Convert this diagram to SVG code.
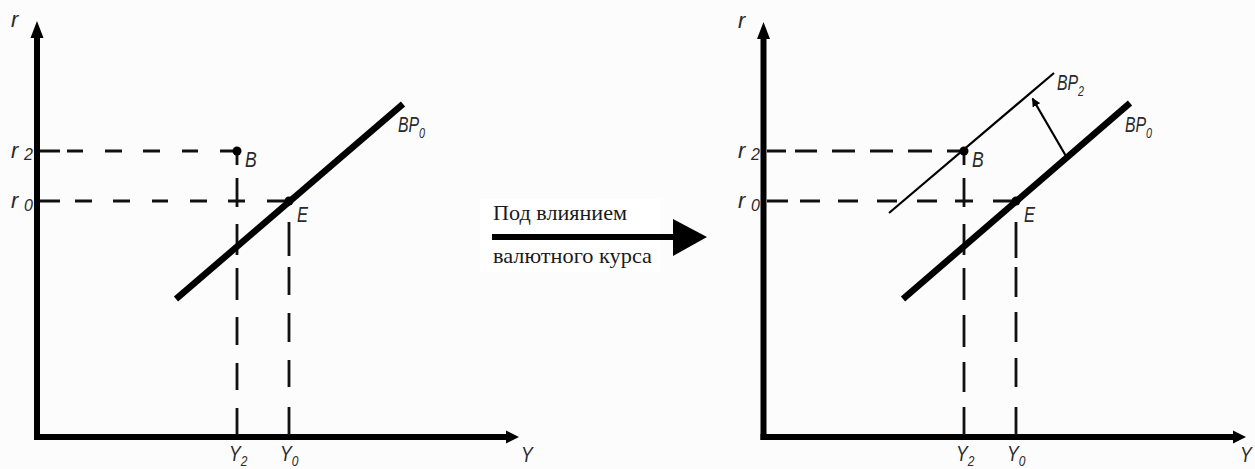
<svg xmlns="http://www.w3.org/2000/svg" width="1255" height="469" viewBox="0 0 1255 469">
  <defs>
    <style>
      .axis { stroke: #000; stroke-width: 6; fill: none; }
      .head { fill: #000; }
      .dash { stroke: #111; stroke-width: 2.8; fill: none; }
      .bp0 { stroke: #000; stroke-width: 6.5; fill: none; }
      .bp2 { stroke: #000; stroke-width: 2.2; fill: none; }
      .dot { fill: #000; }
      .lab { font-family: "Liberation Sans", Arial, sans-serif; font-style: italic; font-size: 22px; fill: #2a2a2a; }
      .sub { font-size: 15px; }
      .rsub { font-size: 16px; }
      .ru { font-family: "Liberation Serif", "Times New Roman", serif; font-size: 21px; fill: #1a1a1a; }
    </style>
    <marker id="shiftHead" viewBox="0 0 10 10" refX="9" refY="5" markerWidth="4" markerHeight="4" orient="auto" markerUnits="strokeWidth">
      <path d="M0,0 L10,5 L0,10 Z" fill="#000"/>
    </marker>
  </defs>

  <rect x="0" y="0" width="1255" height="469" fill="#fcfcfc"/>

  <!-- Left chart -->
  <g id="left-chart">
    <g id="left-axes">
      <path class="axis" d="M37,440 V36"/>
      <polygon class="head" points="37,21 30.5,38 43.5,38"/>
      <path class="axis" d="M34,437 H508"/>
      <polygon class="head" points="519,437 506,430.5 506,443.5"/>
    </g>
    <g id="left-guides">
      <path class="dash" d="M40,151 H60 M67,151 H83 M105,151 H122 M143,151 H160 M182,151 H198 M220,151 H234"/>
      <path class="dash" d="M40,201 H60 M75,201 H92 M113,201 H130 M152,201 H168 M190,201 H207 M228,201 H245 M267,201 H287"/>
      <path class="dash" d="M237,151 V165 M237,178 V207 M237,224 V255 M237,268 V300 M237,317 V345 M237,363 V390 M237,408 V435"/>
      <path class="dash" d="M289,201 V205 M289,222 V256 M289,267 V295 M289,313 V342 M289,360 V387 M289,407 V435"/>
    </g>
    <g id="left-bp0">
      <path class="bp0" d="M176,299 L403,104"/>
    </g>
    <g id="left-point-B"><circle class="dot" cx="237" cy="151" r="4.5"/></g>
    <g id="left-point-E"><circle class="dot" cx="289" cy="201" r="4.5"/></g>
    <g id="left-labels">
      <text class="lab" x="11" y="27">r</text>
      <text class="lab" x="11" y="158">r<tspan class="rsub" x="24" y="160">2</tspan></text>
      <text class="lab" x="11" y="208">r<tspan class="rsub" x="24" y="211">0</tspan></text>
      <text class="lab" transform="translate(245,167) scale(0.8,1)">B</text>
      <text class="lab" transform="translate(297,222) scale(0.75,1)">E</text>
      <text class="lab" transform="translate(398,132) scale(0.72,1)">BP<tspan class="sub" dy="6">0</tspan></text>
      <text class="lab" transform="translate(229,461) scale(0.8,1)">Y<tspan class="sub" dy="5">2</tspan></text>
      <text class="lab" transform="translate(280,461) scale(0.8,1)">Y<tspan class="sub" dy="5">0</tspan></text>
      <text class="lab" transform="translate(521,462) scale(0.8,1)">Y</text>
    </g>
  </g>

  <!-- Transition arrow -->
  <g id="transition">
    <rect x="480" y="199" width="180" height="73" fill="#ffffff"/>
    <path d="M492,237 H676" stroke="#000" stroke-width="6" fill="none"/>
    <polygon class="head" points="707,237 673,219 673,256"/>
    <text class="ru" x="493" y="220" textLength="134" lengthAdjust="spacingAndGlyphs">Под влиянием</text>
    <text class="ru" x="493" y="263" textLength="159" lengthAdjust="spacingAndGlyphs">валютного курса</text>
  </g>

  <!-- Right chart -->
  <g id="right-chart">
    <g id="right-axes">
      <path class="axis" d="M763.5,440 V36"/>
      <polygon class="head" points="763.5,22 757,39 770,39"/>
      <path class="axis" d="M760.5,437 H1235"/>
      <polygon class="head" points="1246,437 1233,430.5 1233,443.5"/>
    </g>
    <g id="right-guides">
      <path class="dash" d="M767,151 H786 M795,151 H817 M832,151 H855 M870,151 H893 M908,151 H932 M947,151 H961"/>
      <path class="dash" d="M767,201 H788 M800,201 H820 M838,201 H858 M877,201 H897 M917,201 H937 M955,201 H973 M993,201 H1013"/>
      <path class="dash" d="M964,151 V165 M964,178 V207 M964,224 V255 M964,268 V300 M964,315 V347 M964,362 V392 M964,407 V435"/>
      <path class="dash" d="M1016,201 V205 M1016,222 V258 M1016,267 V297 M1016,312 V342 M1016,358 V387 M1016,407 V435"/>
    </g>
    <g id="right-bp0">
      <path class="bp0" d="M903,299 L1130,103"/>
    </g>
    <g id="right-bp2">
      <path class="bp2" d="M889,213 L1054,73"/>
    </g>
    <g id="shift-arrow">
      <path class="bp2" d="M1066.5,157 L1032.5,98.5" marker-end="url(#shiftHead)"/>
    </g>
    <g id="right-point-B"><circle class="dot" cx="964" cy="151" r="4.5"/></g>
    <g id="right-point-E"><circle class="dot" cx="1016" cy="201" r="4.5"/></g>
    <g id="right-labels">
      <text class="lab" x="738" y="28">r</text>
      <text class="lab" x="738" y="158">r<tspan class="rsub" x="751" y="160">2</tspan></text>
      <text class="lab" x="738" y="208">r<tspan class="rsub" x="751" y="211">0</tspan></text>
      <text class="lab" transform="translate(972,167) scale(0.8,1)">B</text>
      <text class="lab" transform="translate(1024,222) scale(0.75,1)">E</text>
      <text class="lab" transform="translate(1125,132) scale(0.72,1)">BP<tspan class="sub" dy="6">0</tspan></text>
      <text class="lab" transform="translate(1057,90) scale(0.72,1)">BP<tspan class="sub" dy="6">2</tspan></text>
      <text class="lab" transform="translate(956,461) scale(0.8,1)">Y<tspan class="sub" dy="5">2</tspan></text>
      <text class="lab" transform="translate(1007,461) scale(0.8,1)">Y<tspan class="sub" dy="5">0</tspan></text>
      <text class="lab" transform="translate(1240,462) scale(0.8,1)">Y</text>
    </g>
  </g>
</svg>
